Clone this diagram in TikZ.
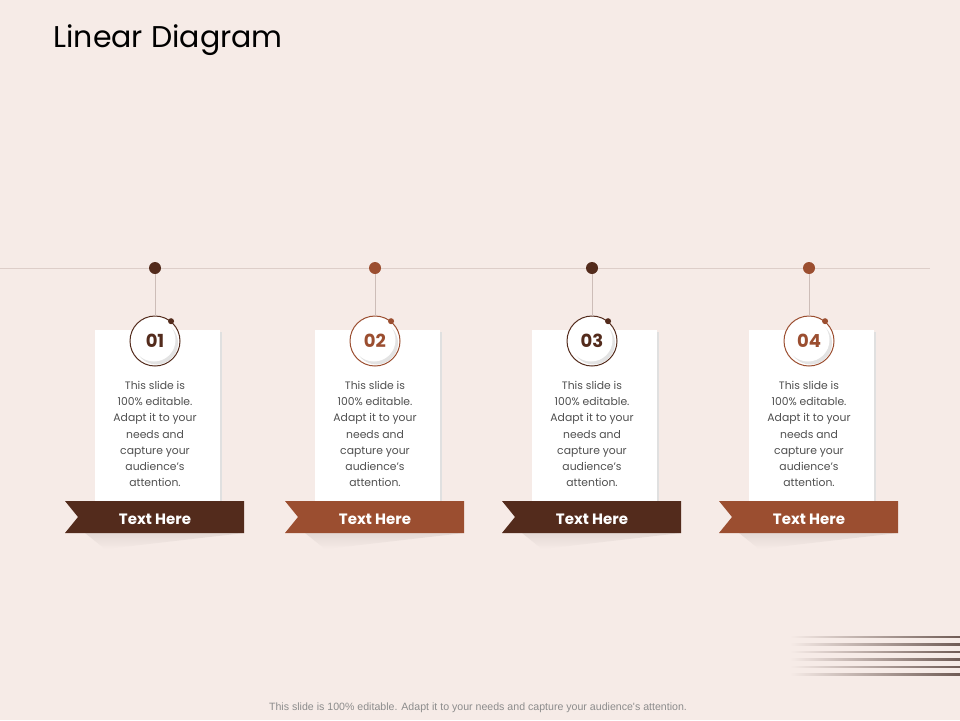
\documentclass[tikz,border=0pt]{standalone}
\usepackage{fontspec}
\setmainfont{Poppins}
\newfontfamily\footfont{Liberation Sans}
\usetikzlibrary{positioning}
\definecolor{bgpink}{HTML}{F6EBE7}
\definecolor{mdark}{HTML}{532B1C}
\definecolor{mrust}{HTML}{9B4E30}
\definecolor{mline}{HTML}{DDCEC9}
\definecolor{mstem}{HTML}{CDBDB8}
\definecolor{mtext}{HTML}{505050}
\definecolor{mfoot}{HTML}{8C8C8C}
\definecolor{mstripe}{HTML}{6F5B55}
\definecolor{mstripemid}{HTML}{D9C9C4}
\definecolor{mshadow}{HTML}{E4D9D5}
\tikzset{card/.style = {fill=white},
         cardshadow/.style = {fill=black!12},
         ribbon/.style = {fill=#1},
         ring/.style = {circle, draw=#1, line width=1pt, fill=white,
                        minimum size=50pt, inner sep=0pt},
         hookdot/.style = {circle, fill=#1, minimum size=12pt, inner sep=0pt},
         bodytext/.style = {align=center, text=mtext,
                            font=\fontsize{10.8}{16.1}\selectfont},
         numtext/.style = {font=\bfseries\fontsize{18}{20}\selectfont},
         ribtext/.style = {text=white, font=\bfseries\fontsize{15}{17}\selectfont}}

\begin{document}
\begin{tikzpicture}[x=1pt, y=-1pt]
    \fill [bgpink] (0, 0) rectangle (960, 720);
    \useasboundingbox (0, 0) rectangle (960, 720);

    \node [anchor=base west, font=\fontsize{30}{34}\selectfont] (title) at (50, 47) {Linear Diagram};

    % time line
    \coordinate (lineL) at (0, 268);
    \coordinate (lineR) at (930, 268);
    \draw [mline, line width=0.8pt] (lineL) -- (lineR);

    \foreach \i/\cx/\colour in {1/155/mdark, 2/375/mrust, 3/592/mdark, 4/809/mrust} {
      % card
      \fill [cardshadow] (\cx-59, 332) rectangle (\cx+67, 501);
      \fill [card] (\cx-60, 330) rectangle (\cx+65, 501);
      \node [bodytext] (b\i) at (\cx, 434) {This slide is\\100\% editable.\\Adapt it to your\\needs and\\capture your\\audience's\\attention.};

      % ribbon and its shadow
      \shade [top color=mshadow, bottom color=bgpink]
        (\cx-70, 533) -- (\cx+89, 533) -- (\cx-50, 549) -- cycle;
      \fill [ribbon=\colour] (\cx-90, 501) -- (\cx+89, 501) -- (\cx+89, 533)
        -- (\cx-90, 533) -- (\cx-77, 517) -- cycle;
      \node [ribtext] (r\i) at (\cx, 519) {Text Here};

      % hanger
      \node [hookdot=\colour] (d\i) at (\cx, 268) {};
      \node [ring=\colour] (c\i) at (\cx, 341) {};
      \fill [black!11] (\cx+1.5, 343) circle (21.5);
      \fill [white] (\cx-1, 340) circle (21.5);
      \node [numtext, text=\colour] (n\i) at (c\i) {0\i};
      \draw [mstem, line width=0.8pt] (d\i) -- (c\i);
      \fill [\colour] (c\i.51) circle (3);
    }

    % stripes bottom right
    \foreach \y in {637, 644.5, 652, 659.5, 667, 674.5} {
      \shade [left color=bgpink, middle color=mstripemid, right color=mstripe]
        (790, \y-0.6) rectangle (960, \y+0.6);
    }

    \node [text=mfoot, font=\footfont\fontsize{10.6}{12}\selectfont] (foot) at (478, 708) {This slide is 100\% editable.  Adapt it to your needs and capture your audience's attention.};
\end{tikzpicture}
\end{document}
